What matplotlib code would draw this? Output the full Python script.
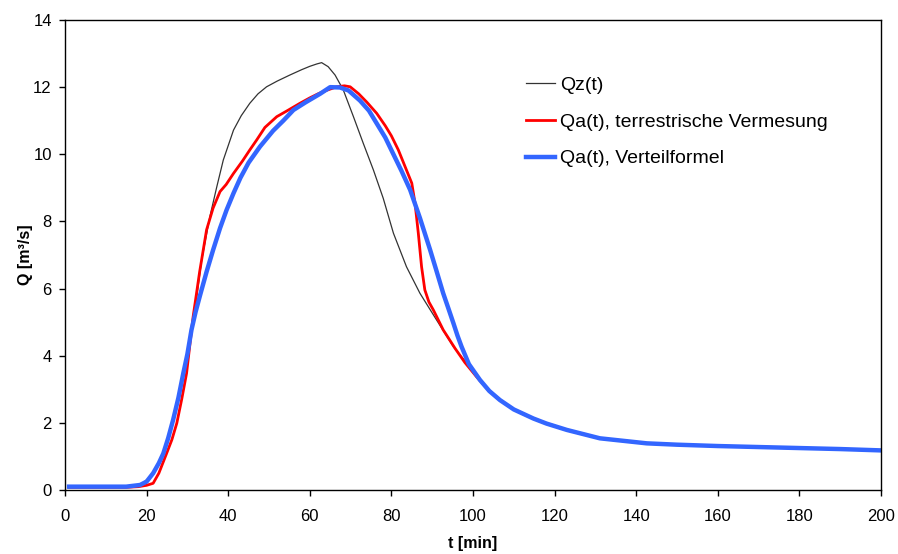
import matplotlib
matplotlib.use("Agg")
import matplotlib.pyplot as plt

plt.rcParams['font.family'] = ['Liberation Sans', 'DejaVu Sans']

# shared recession tail (all three curves coincide here)
t_tail = [104, 106.6, 110, 114.8, 118, 123, 131.1, 142.6, 150, 160, 170, 180, 190, 200]
q_tail = [2.95, 2.68, 2.4, 2.13, 1.98, 1.79, 1.54, 1.39, 1.35, 1.31, 1.28, 1.25, 1.22, 1.18]

# Qz(t)
tz = [1, 10, 15, 17, 19, 21, 23, 25, 27, 29, 30.6, 32, 33.5, 35.5, 37.2, 38.8, 41.3, 43.2, 45.3, 47.3, 49.4,
      52, 55.1, 58, 60, 61.7, 62.9, 64.5, 66.2, 68.2, 70.7, 73.1, 75.6, 78, 80.5, 83.7, 87, 91.1, 95.2, 98, 100.9]
qz = [0.08, 0.08, 0.09, 0.12, 0.2, 0.4, 0.8, 1.4, 2.3, 3.4, 4.4, 5.5, 6.85, 8.14, 9.03, 9.83, 10.72, 11.15,
      11.52, 11.8, 12.01, 12.18, 12.36, 12.52, 12.62, 12.69, 12.73, 12.61, 12.36, 11.92, 11.12, 10.33, 9.53,
      8.69, 7.65, 6.65, 5.86, 5.06, 4.27, 3.85, 3.4]

# Qa(t), terrestrische Vermesung
ta = [1, 10, 15, 18, 20, 21.6, 23, 24.9, 26.2, 27.4, 28.6, 29.8, 31.4, 33, 34.7, 36.3, 38, 39.5, 41.3, 43.5,
      45.3, 47, 49, 51.9, 54.5, 57.6, 60, 62, 64, 66.6, 68.5, 69.9, 72, 74, 76.4, 78.5, 80, 81.7, 83.3, 85,
      85.8, 86.6, 87.4, 88.2, 89.2, 90.3, 92.7, 95.6, 98, 100.9]
qa = [0.08, 0.08, 0.08, 0.1, 0.14, 0.2, 0.5, 1.09, 1.5, 1.99, 2.7, 3.48, 5.16, 6.5, 7.75, 8.4, 8.89, 9.1,
      9.43, 9.8, 10.13, 10.43, 10.8, 11.12, 11.3, 11.52, 11.68, 11.8, 11.9, 12.01, 12.04, 12.01, 11.8, 11.55,
      11.22, 10.85, 10.55, 10.13, 9.65, 9.14, 8.54, 7.65, 6.65, 5.96, 5.6, 5.36, 4.77, 4.22, 3.8, 3.37]

# Qa(t), Verteilformel
tv = [1, 10, 15, 18.4, 20, 21.6, 23, 24.1, 25.3, 26.5, 27.8, 29, 30, 31, 32, 33.1, 34.7, 36.3, 38, 39.6,
      41.3, 43, 45, 47.8, 51, 53.5, 56, 59, 62.5, 65, 67.4, 69.5, 72.3, 74.5, 76.4, 78.5, 80.5, 82.5, 84.6,
      87, 89.5, 91, 92.7, 94, 95.2, 96.2, 97.2, 99, 101.7]
qv = [0.1, 0.1, 0.1, 0.15, 0.25, 0.5, 0.8, 1.09, 1.55, 2.09, 2.75, 3.48, 4.05, 4.77, 5.3, 5.8, 6.5, 7.15,
      7.8, 8.34, 8.84, 9.3, 9.75, 10.23, 10.7, 11.0, 11.32, 11.55, 11.8, 12.0, 11.99, 11.9, 11.6, 11.3, 10.92,
      10.5, 10.0, 9.5, 8.94, 8.1, 7.15, 6.55, 5.86, 5.4, 4.97, 4.6, 4.27, 3.75, 3.28]

fig = plt.figure(figsize=(8.98, 5.54), dpi=100)
ax = fig.add_axes([0.0724, 0.1155, 0.9086, 0.8484])

ax.plot(tz + t_tail, qz + q_tail, color='#333333', lw=0.9, label='Qz(t)')
ax.plot(ta + t_tail, qa + q_tail, color='#FF0000', lw=2.0, label='Qa(t), terrestrische Vermesung')
ax.plot(tv + t_tail, qv + q_tail, color='#3366FF', lw=3.2, label='Qa(t), Verteilformel')

ax.set_xlim(0, 200)
ax.set_ylim(0, 14)
ax.set_xticks(range(0, 201, 20))
ax.set_yticks(range(0, 15, 2))
ax.tick_params(direction='out', length=4, labelsize=12, width=1)
ax.tick_params(axis='x', pad=10)
ax.tick_params(axis='y', pad=5.5)
for s in ax.spines.values():
    s.set_linewidth(1.0)
ax.set_xlabel('t [min]', fontsize=11.5, fontweight='bold')
ax.set_ylabel('Q [m³/s]', fontsize=11.5, fontweight='bold')
ax.xaxis.set_label_coords(0.5, -0.097)
ax.yaxis.set_label_coords(-0.039, 0.5)

leg = ax.legend(loc='upper left', bbox_to_anchor=(0.565, 0.880), frameon=False, fontsize=14,
                handlelength=1.5, handletextpad=0.25, labelspacing=0.98,
                borderpad=0, borderaxespad=0)

fig.savefig('out.png', dpi=100)
